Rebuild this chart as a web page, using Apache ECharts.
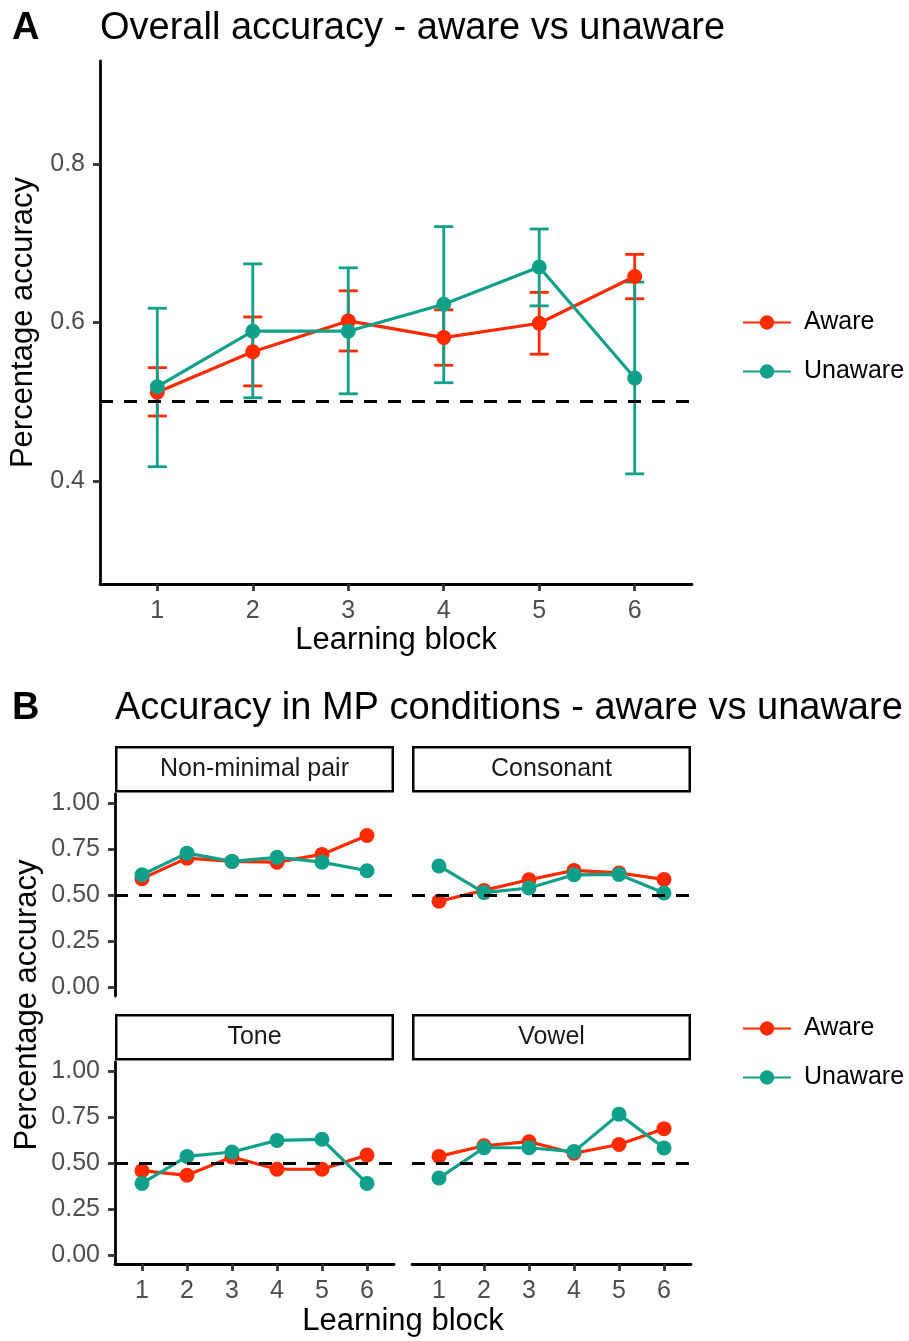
<!DOCTYPE html>
<html>
<head>
<meta charset="utf-8">
<script src="https://cdn.jsdelivr.net/npm/echarts@6/dist/echarts.min.js"></script>
<style>
  html, body { margin: 0; padding: 0; background: #fff; }
  #chart { width: 909px; height: 1341px; }
</style>
</head>
<body>
<div id="chart"></div>
<script>
// ---- data ----
var blocks = [1, 2, 3, 4, 5, 6];

// panel A: overall accuracy with error bars
var overallAware = [0.512, 0.563, 0.602, 0.581, 0.599, 0.658];
var overallAwareLow = [0.482, 0.520, 0.564, 0.546, 0.560, 0.630];
var overallAwareHigh = [0.543, 0.607, 0.640, 0.616, 0.638, 0.686];
var overallUnaware = [0.519, 0.589, 0.589, 0.623, 0.670, 0.530];
var overallUnawareLow = [0.418, 0.505, 0.510, 0.524, 0.621, 0.409];
var overallUnawareHigh = [0.618, 0.674, 0.669, 0.721, 0.718, 0.651];

// panel B: accuracy per MP condition
var conditions = ['Non-minimal pair', 'Consonant', 'Tone', 'Vowel'];
var nmpAware = [0.589, 0.701, 0.683, 0.679, 0.721, 0.824];
var nmpUnaware = [0.610, 0.728, 0.683, 0.705, 0.679, 0.632];
var consAware = [0.466, 0.525, 0.583, 0.634, 0.620, 0.585];
var consUnaware = [0.658, 0.513, 0.538, 0.610, 0.612, 0.511];
var toneAware = [0.458, 0.433, 0.533, 0.466, 0.466, 0.543];
var toneUnaware = [0.389, 0.536, 0.560, 0.623, 0.629, 0.389];
var vowelAware = [0.536, 0.594, 0.616, 0.553, 0.601, 0.687];
var vowelUnaware = [0.418, 0.583, 0.583, 0.562, 0.766, 0.582];

var ticksA = [0.4, 0.6, 0.8];
var ticksB = [0, 0.25, 0.5, 0.75, 1];
var chance = 0.5;

var red = '#FF2A00';
var teal = '#0FA08A';
var font = "'Liberation Sans', Arial, sans-serif";

var chart = echarts.init(document.getElementById('chart'), null, { renderer: 'canvas' });

function pairs(ys) {
  return blocks.map(function(b, i) { return [b, ys[i]]; });
}
function bars(lo, hi) {
  return blocks.map(function(b, i) { return [b, lo[i], hi[i]]; });
}

function errorBar(params, api) {
  var x = api.value(0), lo = api.value(1), hi = api.value(2);
  var top = api.coord([x, hi]);
  var bot = api.coord([x, lo]);
  var l = api.coord([x - 0.1, hi])[0];
  var r = api.coord([x + 0.1, hi])[0];
  var st = { stroke: api.visual('color'), lineWidth: 2.8 };
  return {
    type: 'group',
    children: [
      { type: 'line', shape: { x1: top[0], y1: top[1], x2: bot[0], y2: bot[1] }, style: st },
      { type: 'line', shape: { x1: l, y1: top[1], x2: r, y2: top[1] }, style: st },
      { type: 'line', shape: { x1: l, y1: bot[1], x2: r, y2: bot[1] }, style: st }
    ]
  };
}

// grids: A, then facets NMP, Consonant, Tone, Vowel
var grids = [
  { left: 100, top: 61, width: 592, height: 523 },
  { left: 115, top: 794, width: 279, height: 202 },
  { left: 412, top: 794, width: 279, height: 202 },
  { left: 115, top: 1062, width: 279, height: 202 },
  { left: 412, top: 1062, width: 279, height: 202 }
];

var axisLineStyle = { color: '#000', width: 2.8 };
var tickStyle = { color: '#333', width: 2.8 };

function xAxisFor(i, show) {
  return {
    type: 'value', gridIndex: i, min: 0.4, max: 6.6,
    show: show,
    axisLine: { show: true, onZero: false, lineStyle: axisLineStyle },
    axisTick: { show: true, length: 7, lineStyle: tickStyle, customValues: blocks },
    axisLabel: { show: true, margin: 15, customValues: blocks, color: '#4D4D4D',
      fontSize: 25, fontFamily: font },
    splitLine: { show: false }
  };
}
function yAxisFor(i, show, lo, hi, ticks, digits) {
  return {
    type: 'value', gridIndex: i, min: lo, max: hi,
    show: show,
    axisLine: { show: true, onZero: false, lineStyle: axisLineStyle },
    axisTick: { show: true, length: 7, lineStyle: tickStyle, customValues: ticks },
    axisLabel: { show: true, margin: 15, customValues: ticks, color: '#4D4D4D',
      fontSize: 25, fontFamily: font,
      formatter: function(v) { return Number(v).toFixed(digits); } },
    splitLine: { show: false }
  };
}

var xAxes = [
  xAxisFor(0, true), xAxisFor(1, false), xAxisFor(2, false), xAxisFor(3, true), xAxisFor(4, true)
];
xAxes[0].name = 'Learning block';
xAxes[0].nameLocation = 'middle';
xAxes[0].nameGap = 41;
xAxes[0].nameTextStyle = { fontSize: 31, color: '#000', fontFamily: font };

var yAxes = [
  yAxisFor(0, true, 0.27, 0.93, ticksA, 1),
  yAxisFor(1, true, -0.05, 1.05, ticksB, 2),
  yAxisFor(2, false, -0.05, 1.05, ticksB, 2),
  yAxisFor(3, true, -0.05, 1.05, ticksB, 2),
  yAxisFor(4, false, -0.05, 1.05, ticksB, 2)
];
yAxes[0].name = 'Percentage accuracy';
yAxes[0].nameLocation = 'middle';
yAxes[0].nameGap = 52;
yAxes[0].nameTextStyle = { fontSize: 31, color: '#000', fontFamily: font };

function lineSeries(name, color, gi, ys, z) {
  return {
    name: name, type: 'line', xAxisIndex: gi, yAxisIndex: gi,
    data: pairs(ys), symbol: 'circle', symbolSize: 15, z: z,
    lineStyle: { color: color, width: 3.2 },
    itemStyle: { color: color }
  };
}
function chanceLine(gi) {
  return {
    type: 'line', xAxisIndex: gi, yAxisIndex: gi, z: 10,
    data: [[1, chance]], symbol: 'none', lineStyle: { width: 0 },
    markLine: {
      silent: true, symbol: 'none', label: { show: false },
      lineStyle: { color: '#000', type: [13, 11], width: 3 },
      data: [{ yAxis: chance }]
    }
  };
}

var series = [
  { name: 'Aware CI', type: 'custom', xAxisIndex: 0, yAxisIndex: 0, z: 1,
    renderItem: errorBar, itemStyle: { color: red }, data: bars(overallAwareLow, overallAwareHigh) },
  { name: 'Unaware CI', type: 'custom', xAxisIndex: 0, yAxisIndex: 0, z: 1,
    renderItem: errorBar, itemStyle: { color: teal }, data: bars(overallUnawareLow, overallUnawareHigh) },
  lineSeries('Aware', red, 0, overallAware, 2),
  lineSeries('Unaware', teal, 0, overallUnaware, 3),
  chanceLine(0)
];

var facetAware = [nmpAware, consAware, toneAware, vowelAware];
var facetUnaware = [nmpUnaware, consUnaware, toneUnaware, vowelUnaware];
for (var k = 0; k < 4; k++) {
  series.push(lineSeries('Aware', red, k + 1, facetAware[k], 2));
  series.push(lineSeries('Unaware', teal, k + 1, facetUnaware[k], 3));
  series.push(chanceLine(k + 1));
}

// strip labels above each facet
var graphics = [];
conditions.forEach(function(c, k) {
  var g = grids[k + 1];
  var y = g.top - 48;
  graphics.push({
    type: 'rect', shape: { x: g.left + 1.25, y: y + 1.25, width: g.width - 2.5, height: 44 },
    style: { fill: '#fff', stroke: '#000', lineWidth: 2.5 }
  });
  graphics.push({
    type: 'text', x: g.left + g.width / 2, y: y + 23,
    style: { text: c, fontSize: 25, fontFamily: font, fill: '#1A1A1A', align: 'center', verticalAlign: 'middle' }
  });
});
graphics.push({
  type: 'text', x: 27, y: 1005, rotation: Math.PI / 2,
  style: { text: 'Percentage accuracy', fontSize: 31, fontFamily: font, fill: '#000', align: 'center', verticalAlign: 'middle' }
});
graphics.push({
  type: 'text', x: 403, y: 1321,
  style: { text: 'Learning block', fontSize: 31, fontFamily: font, fill: '#000', align: 'center', verticalAlign: 'middle' }
});

var legendBase = {
  data: ['Aware', 'Unaware'], orient: 'vertical', left: 742, padding: 0,
  itemWidth: 48, itemHeight: 18, itemGap: 24, selectedMode: false,
  textStyle: { fontSize: 25, color: '#000', fontFamily: font, lineHeight: 25, padding: [0, 0, 0, 8] }
};

chart.setOption({
  animation: false,
  textStyle: { fontFamily: font },
  title: [
    { text: 'A', left: 12, top: 10, padding: 0, textStyle: { fontSize: 38, fontWeight: 'bold', color: '#000', fontFamily: font } },
    { text: 'Overall accuracy - aware vs unaware', left: 100, top: 10, padding: 0,
      textStyle: { fontSize: 38, fontWeight: 'normal', color: '#000', fontFamily: font } },
    { text: 'B', left: 12, top: 690, padding: 0, textStyle: { fontSize: 38, fontWeight: 'bold', color: '#000', fontFamily: font } },
    { text: 'Accuracy in MP conditions - aware vs unaware', left: 115, top: 690, padding: 0,
      textStyle: { fontSize: 38, fontWeight: 'normal', color: '#000', fontFamily: font } }
  ],
  legend: [
    Object.assign({}, legendBase, { top: 310 }),
    Object.assign({}, legendBase, { top: 1016 })
  ],
  grid: grids,
  xAxis: xAxes,
  yAxis: yAxes,
  series: series,
  graphic: graphics
});

window.addEventListener('resize', function() { chart.resize(); });
</script>
</body>
</html>
